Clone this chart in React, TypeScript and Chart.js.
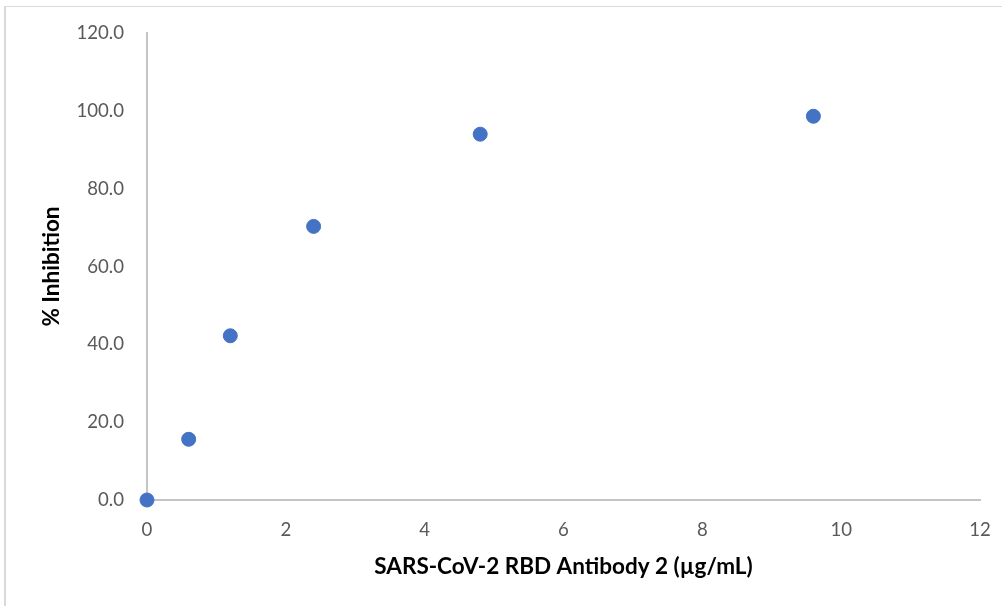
import React, { useEffect, useRef } from "react";
import { Chart, registerables } from "chart.js";

Chart.register(...registerables);

const concentrations = [0, 0.6, 1.2, 2.4, 4.8, 9.6];
const inhibition = [0, 15.6, 42.2, 70.3, 94.0, 98.6];
const xTitle = "SARS-CoV-2 RBD Antibody 2 (µg/mL)";
const yTitle = "% Inhibition";

const frame = {
  id: "frame",
  beforeDraw(chart: any) {
    const ctx = chart.ctx;
    ctx.save();
    ctx.fillStyle = "#ffffff";
    ctx.fillRect(0, 0, chart.width, chart.height);
    ctx.strokeStyle = "#d9d9d9";
    ctx.lineWidth = 1;
    ctx.beginPath();
    ctx.moveTo(4, 6.5);
    ctx.lineTo(chart.width, 6.5);
    ctx.stroke();
    ctx.lineWidth = 2;
    ctx.beginPath();
    ctx.moveTo(5, 6);
    ctx.lineTo(5, chart.height);
    ctx.stroke();
    ctx.restore();
  },
};

export default function App() {
  const ref = useRef<HTMLCanvasElement | null>(null);
  useEffect(() => {
    if (!ref.current) return;
    const font = "Lato, 'Open Sans', sans-serif";
    const chart = new Chart(ref.current, {
      type: "scatter",
      data: {
        datasets: [
          {
            data: concentrations.map((x, i) => ({ x, y: inhibition[i] })),
            backgroundColor: "#4472C4",
            borderColor: "#4472C4",
            pointRadius: 7,
            pointHoverRadius: 7,
            clip: false as any,
          },
        ],
      },
      plugins: [frame],
      options: {
        animation: false,
        responsive: false,
        maintainAspectRatio: false,
        layout: { padding: { top: 33, right: 22, bottom: 0, left: 0 } },
        plugins: { legend: { display: false }, tooltip: { enabled: false } },
        scales: {
          x: {
            type: "linear",
            min: 0,
            max: 12,
            ticks: { stepSize: 2, color: "#595959", padding: 19, font: { family: font, size: 18.6 } },
            grid: { display: false, drawTicks: false },
            border: { display: true, color: "#c4c4c4", width: 2 },
            title: {
              display: true,
              text: xTitle,
              color: "#000000",
              font: { family: font, size: 22.5, weight: "bold" },
              padding: { top: 0, bottom: 25.5 },
            },
            afterFit(scale: any) {
              scale.height = 106;
              scale.paddingLeft = 0;
              scale.paddingRight = 0;
            },
          },
          y: {
            type: "linear",
            min: 0,
            max: 120,
            ticks: {
              stepSize: 20,
              color: "#595959",
              padding: 23,
              font: { family: font, size: 18.6 },
              callback: (v: any) => Number(v).toFixed(1),
            },
            grid: { display: false, drawTicks: false },
            border: { display: true, color: "#c4c4c4", width: 2 },
            title: {
              display: true,
              text: yTitle,
              color: "#000000",
              font: { family: font, size: 22.5, weight: "bold" },
              padding: { top: 38.5, bottom: 0 },
            },
            afterFit(scale: any) {
              scale.width = 147;
              scale.paddingTop = 0;
              scale.paddingBottom = 0;
            },
          },
        },
      },
    });
    return () => chart.destroy();
  }, []);
  return (
    <div style={{ position: "fixed", left: 0, top: 0, width: 1002, height: 606, background: "#fff" }}>
      <canvas ref={ref} width={1002} height={606} style={{ display: "block", width: 1002, height: 606 }} />
    </div>
  );
}
